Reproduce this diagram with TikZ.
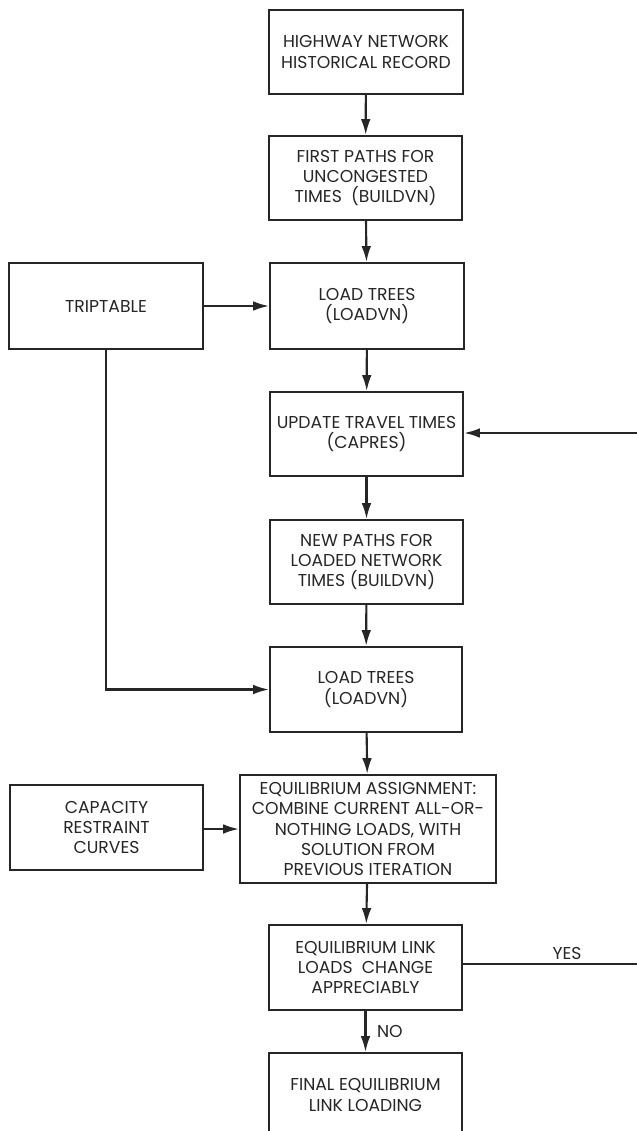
\documentclass[tikz,border=0pt]{standalone}
\usepackage{fontspec}
\setmainfont{Poppins}
\usetikzlibrary{arrows.meta}
\definecolor{inkgray}{HTML}{262626}

\tikzset{
  procbox/.style={draw=inkgray,line width=1.2pt,align=center,inner sep=0pt,
    font=\fontsize{9.8}{11.5}\selectfont,text=inkgray},
  flowarrow/.style={draw=inkgray,line width=1.2pt,-{Latex[length=9pt,width=5.5pt]}},
  flowline/.style={draw=inkgray,line width=1.2pt}
}

\begin{document}
\begin{tikzpicture}[x=0.02cm,y=-0.02cm]
  \useasboundingbox (0,0) rectangle (636,1131);
  % main column
  \node[procbox,minimum width=3.88cm,minimum height=1.68cm] (hist) at (366,52) {HIGHWAY NETWORK\\HISTORICAL RECORD};
  \node[procbox,minimum width=3.86cm,minimum height=1.68cm] (first) at (365.5,178) {FIRST PATHS FOR\\UNCONGESTED\\TIMES\ \ (BUILDVN)};
  \node[procbox,minimum width=3.88cm,minimum height=1.72cm] (load1) at (367,306) {LOAD TREES\\(LOADVN)};
  \node[procbox,minimum width=3.86cm,minimum height=1.68cm] (upd) at (366.5,434) {UPDATE TRAVEL TIMES\\(CAPRES)};
  \node[procbox,minimum width=3.86cm,minimum height=1.68cm] (newp) at (366.5,562) {NEW PATHS FOR\\LOADED NETWORK\\TIMES (BUILDVN)};
  \node[procbox,minimum width=3.84cm,minimum height=1.70cm] (load2) at (366,689.5) {LOAD TREES\\(LOADVN)};
  \node[procbox,minimum width=5.12cm,minimum height=2.16cm] (equil) at (368,829) {EQUILIBRIUM ASSIGNMENT:\\COMBINE CURRENT ALL-OR-\\NOTHING LOADS, WITH\\SOLUTION FROM\\PREVIOUS ITERATION};
  \node[procbox,minimum width=3.86cm,minimum height=1.70cm] (chk) at (365.5,967.5) {EQUILIBRIUM LINK\\LOADS\ \ CHANGE\\APPRECIABLY};
  \node[procbox,minimum width=3.86cm,minimum height=1.68cm] (final) at (365.5,1095) {FINAL EQUILIBRIUM\\LINK LOADING};
  % side inputs
  \node[procbox,minimum width=3.88cm,minimum height=1.72cm] (trip) at (106,306) {TRIPTABLE};
  \node[procbox,minimum width=3.86cm,minimum height=1.70cm] (cap) at (106.5,827.5) {CAPACITY\\RESTRAINT\\CURVES};
  \coordinate (loopa) at (650,964);
  \coordinate (loopb) at (650,433);

  \draw[flowarrow] (hist) -- (first);
  \draw[flowarrow] (first) -- (load1);
  \draw[flowarrow] (load1) -- (upd);
  \draw[flowarrow] (upd) -- (newp);
  \draw[flowarrow] (newp) -- (load2);
  \draw[flowarrow] (load2) -- (equil);
  \draw[flowarrow] (equil) -- (chk);
  \draw[flowarrow] (chk) -- node[right=6pt,procbox,draw=none] (no) {NO} (final);
  \draw[flowarrow] (trip) -- (load1);
  \draw[flowarrow] (trip.south) |- (load2.west);
  \draw[flowarrow] (cap.east |- equil.west) -- (equil.west);
  \draw[flowarrow] (chk.east |- loopa) -- (loopa) -- (loopb) -- (upd.east |- loopb);
  \node[procbox,draw=none] (yes) at (567,953) {YES};
\end{tikzpicture}
\end{document}
